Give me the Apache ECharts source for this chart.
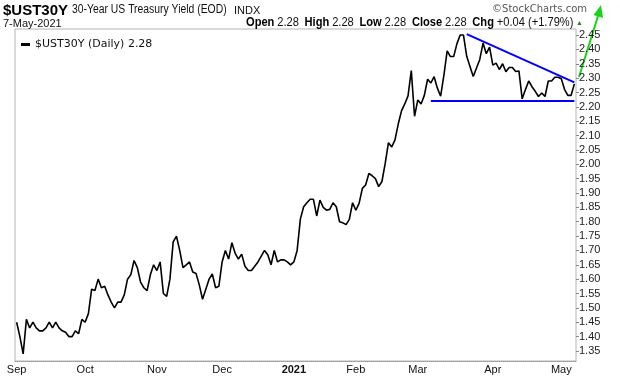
<!DOCTYPE html>
<html>
<head>
<meta charset="utf-8">
<script src="https://cdn.jsdelivr.net/npm/echarts@6/dist/echarts.min.js"></script>
<style>
  html, body { margin: 0; padding: 0; background: #fff; }
  #chart { width: 620px; height: 376px; }
</style>
</head>
<body>
<div id="chart"></div>
<script>
// trading days shown on the chart
var firstDay = '2020-09-01';
var lastDay = '2021-05-07';
var holidays = ['2020-09-07', '2020-11-26', '2020-12-25', '2021-01-01', '2021-01-18', '2021-02-15', '2021-04-02'];

// $UST30Y daily close
var yields = [
    1.45, 1.40, 1.34, 1.46, 1.43, 1.45, 1.43, 1.42, 1.42, 1.43,
    1.45, 1.43, 1.45, 1.43, 1.42, 1.415, 1.40, 1.40, 1.42, 1.41,
    1.46, 1.45, 1.48, 1.565, 1.56, 1.60, 1.57, 1.575, 1.545, 1.52,
    1.50, 1.52, 1.52, 1.545, 1.60, 1.615, 1.665, 1.64, 1.59, 1.57,
    1.56, 1.615, 1.65, 1.63, 1.66, 1.55, 1.54, 1.60, 1.73, 1.75,
    1.70, 1.64, 1.65, 1.66, 1.625, 1.62, 1.58, 1.53, 1.565, 1.60,
    1.618, 1.57, 1.575, 1.66, 1.70, 1.67, 1.727, 1.69, 1.67, 1.687,
    1.645, 1.63, 1.63, 1.645, 1.66, 1.68, 1.70, 1.685, 1.65, 1.70,
    1.66, 1.667, 1.667, 1.66, 1.65, 1.66, 1.70, 1.81, 1.852, 1.866,
    1.878, 1.878, 1.82, 1.875, 1.85, 1.84, 1.843, 1.866, 1.852, 1.80,
    1.796, 1.79, 1.808, 1.866, 1.84, 1.864, 1.916, 1.928, 1.968, 1.96,
    1.95, 1.922, 1.94, 2.003, 2.075, 2.06, 2.085, 2.14, 2.186, 2.21,
    2.238, 2.326, 2.167, 2.224, 2.21, 2.24, 2.296, 2.283, 2.305, 2.265,
    2.237, 2.31, 2.395, 2.375, 2.375, 2.42, 2.45, 2.45, 2.376, 2.34,
    2.306, 2.335, 2.365, 2.422, 2.385, 2.408, 2.345, 2.352, 2.33, 2.35,
    2.322, 2.337, 2.337, 2.323, 2.325, 2.228, 2.26, 2.29, 2.27, 2.254,
    2.236, 2.248, 2.236, 2.29, 2.29, 2.303, 2.303, 2.298, 2.26, 2.24,
    2.24, 2.28
];

// right axis labels
var yTicks = [1.35, 1.40, 1.45, 1.50, 1.55, 1.60, 1.65, 1.70, 1.75, 1.80, 1.85, 1.90,
              1.95, 2.00, 2.05, 2.10, 2.15, 2.20, 2.25, 2.30, 2.35, 2.40, 2.45];
var monthNames = ['Jan', 'Feb', 'Mar', 'Apr', 'May', 'Jun', 'Jul', 'Aug', 'Sep', 'Oct', 'Nov', 'Dec'];

// hand drawn trend lines
var supportLevel = 2.22;
var supportFrom = '2021-03-05';
var trendFrom = ['2021-03-22', 2.453];
var trendTo = ['2021-05-07', 2.285];

// build list of trading days
function ymd(d) {
    return d.toISOString().slice(0, 10);
}
var dates = [];
var d = new Date(firstDay + 'T00:00:00Z');
while (ymd(d) <= lastDay) {
    var wd = d.getUTCDay();
    if (wd !== 0 && wd !== 6 && holidays.indexOf(ymd(d)) < 0) dates.push(ymd(d));
    d.setUTCDate(d.getUTCDate() + 1);
}

function isMonthStart(i) {
    return i === 0 || dates[i].slice(5, 7) !== dates[i - 1].slice(5, 7);
}

var chart = echarts.init(document.getElementById('chart'));
var lastVal = yields[yields.length - 1];
var sans = 'Liberation Sans, Arial, sans-serif';

var option = {
    animation: false,
    backgroundColor: '#fff',
    textStyle: { fontFamily: sans },
    grid: {
        left: 15, right: 44, top: 29, bottom: 15,
        show: true, borderColor: '#b4b4b4', borderWidth: 1
    },
    legend: {
        left: 16, top: 34,
        icon: 'rect', itemWidth: 9, itemHeight: 3,
        formatter: function (name) { return name + ' (Daily) ' + lastVal.toFixed(2); },
        textStyle: { fontFamily: 'DejaVu Sans', fontSize: 11, color: '#111' }
    },
    xAxis: {
        type: 'category',
        data: dates,
        boundaryGap: true,
        axisLine: { show: true, lineStyle: { color: '#999', type: 'dotted' } },
        axisTick: { show: false },
        splitLine: { show: false },
        axisLabel: {
            interval: function (i) { return isMonthStart(i); },
            margin: 3,
            fontSize: 11,
            color: '#111',
            formatter: function (v) {
                var m = parseInt(v.slice(5, 7), 10) - 1;
                if (m === 0) return '{y|' + v.slice(0, 4) + '}';
                return monthNames[m];
            },
            rich: { y: { fontWeight: 'bold', fontSize: 11, color: '#111' } }
        }
    },
    yAxis: {
        type: 'value',
        position: 'right',
        min: 1.315,
        max: 2.471,
        axisLine: { show: false },
        splitLine: { show: false },
        axisTick: { show: true, length: 3, customValues: yTicks, lineStyle: { color: '#888' } },
        axisLabel: {
            customValues: yTicks,
            margin: 3,
            fontSize: 11,
            color: '#222',
            formatter: function (v) { return v.toFixed(2); }
        }
    },
    series: [{
        name: '$UST30Y',
        type: 'line',
        data: yields,
        symbol: 'none',
        color: '#000',
        lineStyle: { color: '#000', width: 1.6 },
        markLine: {
            silent: true,
            symbol: ['none', 'none'],
            label: { show: false },
            lineStyle: { color: '#0000ff', width: 2, type: 'solid' },
            data: [
                [{ coord: [supportFrom, supportLevel] }, { coord: [lastDay, supportLevel] }],
                [{ coord: trendFrom }, { coord: trendTo }]
            ]
        }
    }],
    graphic: [
        {
            type: 'text', x: 3, y: 3,
            style: { text: '$UST30Y', fontFamily: sans, fontWeight: 'bold', fontSize: 15, fill: '#000' }
        },
        {
            type: 'text', x: 72, y: 4, scaleX: 0.865,
            style: { text: '30-Year US Treasury Yield (EOD)', fontFamily: sans, fontSize: 12, fill: '#111' }
        },
        {
            type: 'text', x: 234, y: 5,
            style: { text: 'INDX', fontFamily: sans, fontSize: 11, fill: '#111' }
        },
        {
            type: 'text', x: 3, y: 18,
            style: { text: '7-May-2021', fontFamily: sans, fontSize: 11, fill: '#111' }
        },
        {
            type: 'text', x: 246, y: 16, scaleX: 0.855,
            style: {
                text: '{k|Open} {v|2.28}  {k|High} {v|2.28}  {k|Low} {v|2.28}  {k|Close} {v|2.28}  {k|Chg} {v|+0.04 (+1.79%)}',
                rich: {
                    k: { fontFamily: sans, fontWeight: 'bold', fontSize: 13, fill: '#000' },
                    v: { fontFamily: sans, fontSize: 13, fill: '#111' }
                }
            }
        },
        {
            type: 'text', x: 576, y: 20,
            style: { text: '▲', fontSize: 7, fill: '#2e7d32' }
        },
        {
            type: 'text', right: 33, top: 4,
            style: { text: '©StockCharts.com', fontFamily: 'DejaVu Sans', fontSize: 10, fill: '#555' }
        },
        {
            type: 'polyline',
            shape: { points: [[579, 77], [598, 16]] },
            style: { stroke: '#19d419', lineWidth: 2, fill: null }
        },
        {
            type: 'polygon',
            shape: { points: [[601, 5], [593.5, 15], [603, 18]] },
            style: { fill: '#19d419' }
        }
    ]
};

chart.setOption(option);
</script>
</body>
</html>
